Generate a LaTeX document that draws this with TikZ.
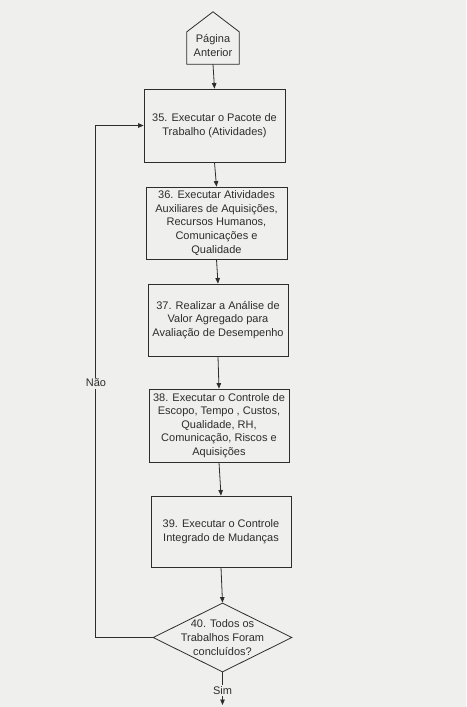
\documentclass[tikz,border=0pt]{standalone}
\usepackage{fontspec}
\setmainfont{Liberation Sans}
\usetikzlibrary{arrows.meta,shapes.geometric,calc}
\definecolor{paper}{RGB}{239,239,237}
\definecolor{ink}{RGB}{45,45,45}
\tikzset{
  every picture/.style={x=1pt,y=-1pt},
  line/.style={draw=ink, line width=0.8pt},
  arr/.style={line, -{Triangle[length=5.5pt,width=4.5pt]}},
  txt/.style={text=ink, align=center, font=\fontsize{11}{13.6}\selectfont, inner sep=0pt},
  stepbox/.style={line, txt, rectangle, minimum width=140pt, minimum height=72pt},
  decision/.style={line, diamond, minimum width=139pt, minimum height=69pt, inner sep=0pt},
  onlinelbl/.style={txt, fill=paper, inner sep=1.5pt}
}
\begin{document}
\begin{tikzpicture}
\fill[paper] (0,0) rectangle (466,707);
\useasboundingbox (0,0) rectangle (466,707);

% previous page connector (pentagon)
\node[inner sep=0pt, minimum width=52pt, minimum height=32pt] (prev) at (213,48) {};
\draw[line] (prev.south west) -- (prev.north west) -- ($(prev.north)+(0,-20)$) -- (prev.north east) -- (prev.south east) -- cycle;
\node[txt] (prevlbl) at (213,45.5) {Página\\Anterior};

\node[stepbox, minimum width=141pt, minimum height=73pt] (b35) at (214.5,125.5) {35. Executar o Pacote de\\Trabalho (Atividades)};
\node[stepbox, minimum width=141pt] (b36) at (216.5,223) {36. Executar Atividades\\Auxiliares de Aquisições,\\Recursos Humanos,\\Comunicações e\\Qualidade};
\node[stepbox] (b37) at (218,320) {37. Realizar a Análise de\\Valor Agregado para\\Avaliação de Desempenho};
\node[stepbox, minimum height=73pt] (b38) at (219,425.5) {38. Executar o Controle de\\Escopo, Tempo , Custos,\\Qualidade, RH,\\Comunicação, Riscos e\\Aquisições};
\node[stepbox, minimum height=71pt] (b39) at (221,531.5) {39. Executar o Controle\\Integrado de Mudanças};
\node[decision] (d40) at (222.5,637.5) {};
\node[txt] (d40t) at (222.5,637.5) {40. Todos os\\Trabalhos Foram\\concluídos?};

\coordinate (endp) at (222.5,705);

\draw[arr] (prev.south) -- (b35.north);
\draw[arr] (b35.south) -- (b36.north);
\draw[arr] (b36.south) -- (b37.north);
\draw[arr] (b37.south) -- (b38.north);
\draw[arr] (b38.south) -- (b39.north);
\draw[arr] (b39.south) -- (d40.north);
\draw[arr] (d40.west) -- ++(-57.5,0) |- (b35.west);
\draw[arr] (d40.south) -- (endp);

\node[onlinelbl] (nao) at (96,383) {Não};
\node[onlinelbl] (sim) at (222.5,690.5) {Sim};
\end{tikzpicture}
\end{document}
